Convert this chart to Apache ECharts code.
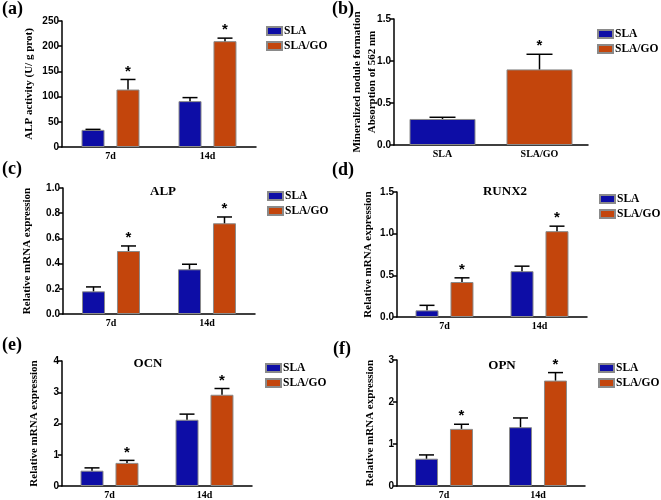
<!DOCTYPE html>
<html>
<head>
<meta charset="utf-8">
<script src="https://cdn.jsdelivr.net/npm/echarts@6/dist/echarts.min.js"></script>
<style>html,body{margin:0;padding:0;background:#fff}#c{width:661px;height:500px}</style>
</head>
<body>
<div id="c"></div>
<script>
// ---------- data ----------
const categories = ['7d', '14d'];
const groupNames = ['SLA', 'SLA/GO'];

// (a) ALP activity (U/ g prot)
const alpActSLA = [34, 91];
const alpActSLAsd = [1, 7];
const alpActGO = [114, 210];
const alpActGOsd = [20, 6];

// (b) mineralized nodule formation
const mineralCats = ['SLA', 'SLA/GO'];
const mineralMean = [0.31, 0.90];
const mineralSd = [0.02, 0.18];
const mineralSig = [0, 1];

// (c) ALP mRNA
const alpSLA = [0.18, 0.355];
const alpSLAsd = [0.035, 0.04];
const alpGO = [0.50, 0.72];
const alpGOsd = [0.04, 0.05];

// (d) RUNX2 mRNA
const runx2SLA = [0.08, 0.55];
const runx2SLAsd = [0.06, 0.06];
const runx2GO = [0.42, 1.03];
const runx2GOsd = [0.05, 0.06];

// (e) OCN mRNA
const ocnSLA = [0.49, 2.12];
const ocnSLAsd = [0.09, 0.18];
const ocnGO = [0.74, 2.92];
const ocnGOsd = [0.08, 0.20];

// (f) OPN mRNA
const opnSLA = [0.65, 1.40];
const opnSLAsd = [0.09, 0.22];
const opnGO = [1.36, 2.51];
const opnGOsd = [0.11, 0.19];

const goSig = [1, 1];
const slaSig = [0, 0];

// ---------- styles ----------
const SERIF = '"Liberation Serif", "Times New Roman", serif';
const SANS = '"Liberation Sans", Arial, sans-serif';
const BLUE = '#0d0da6';
const ORANGE = '#c3450c';
const BAR_W = 23;
const OFF = 17.5;

const panels = [
  {key:'a', grid:{left:62, top:21, width:194, height:126}, cats:categories, max:250, interval:50, dec:0,
   name:'ALP activity (U/ g prot)', nameGap:25, legend:{left:266, top:24.5}, label:{left:2, top:0}},
  {key:'b', grid:{left:394, top:19, width:194, height:126}, cats:mineralCats, max:1.5, interval:0.5, dec:1,
   name:'Mineralized nodule formation\nAbsorption of 562 nm', nameGap:14, legend:{left:597, top:27.5}, label:{left:332, top:0}},
  {key:'c', grid:{left:63, top:188, width:192, height:126}, cats:categories, max:1.0, interval:0.2, dec:1,
   name:'Relative mRNA expression', nameGap:28, legend:{left:267, top:189.5}, label:{left:2, top:160},
   title:{text:'ALP', x:163, y:193}},
  {key:'d', grid:{left:397, top:192, width:190, height:125}, cats:categories, max:1.5, interval:0.5, dec:1,
   name:'Relative mRNA expression', nameGap:21, legend:{left:599, top:192.5}, label:{left:332, top:161},
   title:{text:'RUNX2', x:505, y:193}},
  {key:'e', grid:{left:62, top:361, width:190, height:126}, cats:categories, max:4, interval:1, dec:0,
   name:'Relative mRNA expression', nameGap:20, legend:{left:265, top:361.5}, label:{left:2, top:336},
   title:{text:'OCN', x:148, y:365}},
  {key:'f', grid:{left:397, top:360, width:188, height:127}, cats:categories, max:3, interval:1, dec:0,
   name:'Relative mRNA expression', nameGap:19, legend:{left:598, top:361.5}, label:{left:333, top:340},
   title:{text:'OPN', x:502, y:367}}
];

function errRender(offset, capHalf) {
  return function (params, api) {
    const c = api.value(0);
    const base = api.coord([c, api.value(1)]);
    const top = api.coord([c, api.value(2)]);
    const x = base[0] + offset;
    const ch = [
      {type:'line', shape:{x1:x, y1:base[1], x2:x, y2:top[1]}, style:{stroke:'#000', lineWidth:1.5}},
      {type:'line', shape:{x1:x - capHalf, y1:top[1], x2:x + capHalf, y2:top[1]}, style:{stroke:'#000', lineWidth:1.5}}
    ];
    if (api.value(3)) {
      ch.push({type:'text', x:x, y:top[1] - 8,
        style:{text:'*', font:'bold 15px ' + SANS, align:'center', verticalAlign:'middle', fill:'#000'}});
    }
    return {type:'group', children:ch};
  };
}

function errData(cats, mean, sd, sig) {
  return cats.map((c, i) => (mean[i] === '-' ? null : [i, mean[i], mean[i] + sd[i], sig[i]])).filter(d => d);
}

const option = {
  animation:false,
  backgroundColor:'#fff',
  title:[], legend:[], grid:[], xAxis:[], yAxis:[], series:[]
};

panels.forEach((p, gi) => {
  option.grid.push(Object.assign({containLabel:false}, p.grid));
  option.xAxis.push({
    type:'category', gridIndex:gi, data:p.cats,
    axisLine:{lineStyle:{color:'#000', width:1.5}},
    axisTick:{alignWithLabel:true, length:4, lineStyle:{color:'#000', width:1.5}},
    axisLabel:{color:'#000', fontFamily:SERIF, fontWeight:'bold', fontSize:10, margin:4}
  });
  option.yAxis.push({
    type:'value', gridIndex:gi, min:0, max:p.max, interval:p.interval,
    name:p.name, nameLocation:'middle', nameGap:p.nameGap, nameRotate:90, nameMoveOverlap:false,
    nameTextStyle:{color:'#000', fontFamily:SERIF, fontWeight:'bold', fontSize:11, lineHeight:15},
    axisLine:{show:true, lineStyle:{color:'#000', width:1.5}},
    axisTick:{show:true, length:4, lineStyle:{color:'#000', width:1.5}},
    axisLabel:{color:'#000', fontFamily:SANS, fontWeight:'bold', fontSize:10, margin:3,
      formatter:(v) => v.toFixed(p.dec)},
    splitLine:{show:false}
  });
  option.title.push({text:'(' + p.key + ')', left:p.label.left, top:p.label.top, padding:0,
    textStyle:{fontFamily:SERIF, fontWeight:'bold', fontSize:18, color:'#000'}});
  if (p.title) {
    option.title.push({text:p.title.text, left:p.title.x, top:p.title.y - 8, textAlign:'center', padding:0,
      textStyle:{fontFamily:SERIF, fontWeight:'bold', fontSize:13, color:'#000'}});
  }
  option.legend.push({
    data:groupNames, orient:'vertical', left:p.legend.left, top:p.legend.top, padding:0,
    itemWidth:15, itemHeight:8, itemGap:2, icon:'rect', selectedMode:false,
    textStyle:{fontFamily:SERIF, fontWeight:'bold', fontSize:11.5, color:'#000', lineHeight:13, padding:[0,0,0,-3]}
  });
});

const barStyle = (c) => ({color:c, borderColor:'#8a8a8a', borderWidth:1});

function addGrouped(gi, sla, slaSd, go, goSd, cap) {
  option.series.push({type:'bar', name:'SLA', xAxisIndex:gi, yAxisIndex:gi, data:sla,
    barWidth:BAR_W, barGap:'52%', itemStyle:barStyle(BLUE)});
  option.series.push({type:'bar', name:'SLA/GO', xAxisIndex:gi, yAxisIndex:gi, data:go,
    barWidth:BAR_W, barGap:'52%', itemStyle:barStyle(ORANGE)});
  option.series.push({type:'custom', name:'err SLA ' + gi, xAxisIndex:gi, yAxisIndex:gi,
    renderItem:errRender(-OFF, cap), data:errData(categories, sla, slaSd, slaSig), z:5});
  option.series.push({type:'custom', name:'err GO ' + gi, xAxisIndex:gi, yAxisIndex:gi,
    renderItem:errRender(OFF, cap), data:errData(categories, go, goSd, goSig), z:5});
}

addGrouped(0, alpActSLA, alpActSLAsd, alpActGO, alpActGOsd, 7.5);

// (b)
option.series.push({type:'bar', name:'SLA', xAxisIndex:1, yAxisIndex:1, stack:'b',
  data:[mineralMean[0], '-'], barWidth:66, itemStyle:barStyle(BLUE)});
option.series.push({type:'bar', name:'SLA/GO', xAxisIndex:1, yAxisIndex:1, stack:'b',
  data:['-', mineralMean[1]], barWidth:66, itemStyle:barStyle(ORANGE)});
option.series.push({type:'custom', name:'err b', xAxisIndex:1, yAxisIndex:1,
  renderItem:errRender(0, 13), data:errData(mineralCats, mineralMean, mineralSd, mineralSig), z:5});

addGrouped(2, alpSLA, alpSLAsd, alpGO, alpGOsd, 7.5);
addGrouped(3, runx2SLA, runx2SLAsd, runx2GO, runx2GOsd, 7.5);
addGrouped(4, ocnSLA, ocnSLAsd, ocnGO, ocnGOsd, 7.5);
addGrouped(5, opnSLA, opnSLAsd, opnGO, opnGOsd, 7.5);

const chart = echarts.init(document.getElementById('c'), null, {renderer:'canvas'});
chart.setOption(option);
</script>
</body>
</html>
